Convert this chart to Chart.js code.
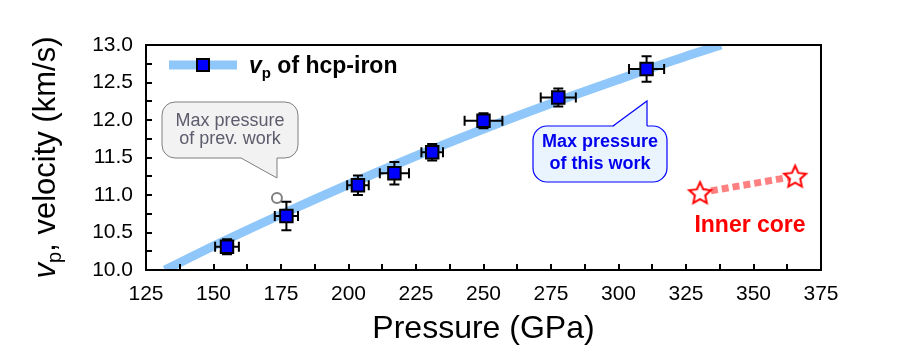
<!DOCTYPE html>
<html>
<head>
<meta charset="utf-8">
<script src="https://cdn.jsdelivr.net/npm/chart.js@4.4.1/dist/chart.umd.min.js"></script>
<style>
  html, body { margin: 0; padding: 0; background: #fff; }
  #wrap { width: 900px; height: 360px; }
</style>
</head>
<body>
<div id="wrap"><canvas id="chart" width="900" height="360"></canvas></div>
<script>
"use strict";

// measured points, vp of hcp-iron
const pressure = [155, 177, 203.5, 217, 231, 250, 277.7, 310.4];
const velocity = [10.31, 10.72, 11.13, 11.29, 11.57, 11.99, 12.30, 12.68];
const pressureErr = [4.4, 4.3, 4, 5.4, 4, 7, 6.5, 6.5];
const velocityErr = [0.1, 0.19, 0.13, 0.15, 0.11, 0.1, 0.12, 0.17];

// fitted curve (thick blue band)
const fitP = [132, 150, 175, 200, 225, 250, 275, 300, 325, 338];
const fitV = [10.0, 10.32, 10.74, 11.14, 11.52, 11.88, 12.22, 12.54, 12.85, 13.0];

// previous work max pressure (open circle)
const prevP = [173.5];
const prevV = [10.96];

// inner core range
const coreP = [330.2, 365.4];
const coreV = [11.03, 11.25];

// axis labels
const xLabels = [125, 150, 175, 200, 225, 250, 275, 300, 325, 350, 375];
const yLabels = [10.0, 10.5, 11.0, 11.5, 12.0, 12.5, 13.0];

const FONT = "Arial, 'Liberation Sans', sans-serif";
const BAND = "#8FC7FA";

function starImage(r) {
  const c = document.createElement("canvas");
  const s = Math.ceil(r * 2 + 6);
  c.width = s;
  c.height = s;
  const g = c.getContext("2d");
  g.translate(s / 2, s / 2 + 1);
  g.beginPath();
  for (let i = 0; i < 10; i++) {
    const rr = i % 2 ? r * 0.47 : r;
    const a = -Math.PI / 2 + (i * Math.PI) / 5;
    g.lineTo(rr * Math.cos(a), rr * Math.sin(a));
  }
  g.closePath();
  g.fillStyle = "#fff";
  g.fill();
  g.strokeStyle = "#ff0000";
  g.lineWidth = 2;
  g.lineJoin = "miter";
  g.stroke();
  return c;
}

function pairs(xs, ys) {
  return xs.map((x, i) => ({ x, y: ys[i] }));
}

// draws pieces of text [{t, font, dy}] one after another from x
function richText(ctx, parts, x, y) {
  let cx = x;
  parts.forEach((p) => {
    ctx.font = p.font;
    ctx.fillText(p.t, cx, y + (p.dy || 0));
    cx += ctx.measureText(p.t).width;
  });
}
function richWidth(ctx, parts) {
  let w = 0;
  parts.forEach((p) => {
    ctx.font = p.font;
    w += ctx.measureText(p.t).width;
  });
  return w;
}

function roundBox(ctx, x, y, w, h, r) {
  ctx.moveTo(x + r, y);
  ctx.lineTo(x + w - r, y);
  ctx.arcTo(x + w, y, x + w, y + r, r);
  ctx.lineTo(x + w, y + h - r);
  ctx.arcTo(x + w, y + h, x + w - r, y + h, r);
  ctx.lineTo(x + r, y + h);
  ctx.arcTo(x, y + h, x, y + h - r, r);
  ctx.lineTo(x, y + r);
  ctx.arcTo(x, y, x + r, y, r);
}

const decor = {
  id: "decor",
  beforeDatasetDraw(chart, args) {
    if (args.index !== 0) return;
    const ctx = chart.ctx;
    const xs = chart.scales.x;
    const ys = chart.scales.y;
    const cap = 5;
    ctx.save();
    ctx.strokeStyle = "#000";
    ctx.lineWidth = 2;
    pressure.forEach((p, i) => {
      const x = xs.getPixelForValue(p);
      const y = ys.getPixelForValue(velocity[i]);
      const x0 = xs.getPixelForValue(p - pressureErr[i]);
      const x1 = xs.getPixelForValue(p + pressureErr[i]);
      const y0 = ys.getPixelForValue(velocity[i] - velocityErr[i]);
      const y1 = ys.getPixelForValue(velocity[i] + velocityErr[i]);
      ctx.beginPath();
      ctx.moveTo(x0, y); ctx.lineTo(x1, y);
      ctx.moveTo(x0, y - cap); ctx.lineTo(x0, y + cap);
      ctx.moveTo(x1, y - cap); ctx.lineTo(x1, y + cap);
      ctx.moveTo(x, y0); ctx.lineTo(x, y1);
      ctx.moveTo(x - cap, y0); ctx.lineTo(x + cap, y0);
      ctx.moveTo(x - cap, y1); ctx.lineTo(x + cap, y1);
      ctx.stroke();
    });
    ctx.restore();
  },
  afterDatasetsDraw(chart) {
    const ctx = chart.ctx;
    ctx.save();
    // callout: previous work
    ctx.beginPath();
    roundBox(ctx, 162, 102, 136, 56, 13);
    ctx.fillStyle = "#F2F2F2";
    ctx.fill();
    ctx.strokeStyle = "#7F7F7F";
    ctx.lineWidth = 1;
    ctx.stroke();
    ctx.beginPath();
    ctx.moveTo(241, 158); ctx.lineTo(277, 178); ctx.lineTo(277, 157);
    ctx.lineTo(241, 157); ctx.closePath();
    ctx.fill();
    ctx.beginPath();
    ctx.moveTo(241, 158); ctx.lineTo(277, 178); ctx.lineTo(277, 158);
    ctx.stroke();
    ctx.fillStyle = "#5C5C6C";
    ctx.font = "18px " + FONT;
    ctx.textAlign = "center";
    ctx.textBaseline = "alphabetic";
    ctx.fillText("Max pressure", 230, 126);
    ctx.fillText("of prev. work", 230, 144);

    // callout: this work
    ctx.beginPath();
    roundBox(ctx, 533, 126, 134, 56, 14);
    ctx.fillStyle = "#EAF4FE";
    ctx.fill();
    ctx.strokeStyle = "#0000FF";
    ctx.lineWidth = 1.2;
    ctx.stroke();
    ctx.beginPath();
    ctx.moveTo(613, 127); ctx.lineTo(647, 101); ctx.lineTo(647, 127);
    ctx.closePath();
    ctx.fill();
    ctx.beginPath();
    ctx.moveTo(613, 126); ctx.lineTo(647, 101); ctx.lineTo(647, 126);
    ctx.stroke();
    ctx.fillStyle = "#0000EE";
    ctx.font = "bold 18px " + FONT;
    ctx.fillText("Max pressure", 600, 147);
    ctx.fillText("of this work", 600, 169);

    // inner core label
    ctx.fillStyle = "#FF0000";
    ctx.font = "bold 23px " + FONT;
    ctx.fillText("Inner core", 750, 232);
    ctx.restore();
  },
  afterDraw(chart) {
    const ctx = chart.ctx;
    const a = chart.chartArea;
    const xs = chart.scales.x;
    const ys = chart.scales.y;
    ctx.save();
    // inner ticks
    ctx.strokeStyle = "#000";
    ctx.lineWidth = 2;
    ctx.beginPath();
    xs.ticks.forEach((t) => {
      if (t.value <= xs.min || t.value >= xs.max) return;
      const px = Math.round(xs.getPixelForValue(t.value));
      ctx.moveTo(px, a.bottom); ctx.lineTo(px, a.bottom - 6);
    });
    ys.ticks.forEach((t) => {
      if (t.value <= ys.min || t.value >= ys.max) return;
      const py = Math.round(ys.getPixelForValue(t.value));
      ctx.moveTo(a.left, py); ctx.lineTo(a.left + 6, py);
    });
    ctx.stroke();
    // frame
    ctx.strokeRect(a.left, a.top, a.right - a.left, a.bottom - a.top);

    // legend
    ctx.strokeStyle = BAND;
    ctx.lineWidth = 9;
    ctx.beginPath();
    ctx.moveTo(169, 65); ctx.lineTo(237, 65);
    ctx.stroke();
    ctx.fillStyle = "#0000FF";
    ctx.fillRect(197, 59, 12, 12);
    ctx.strokeStyle = "#000";
    ctx.lineWidth = 2;
    ctx.strokeRect(197, 59, 12, 12);
    ctx.fillStyle = "#000";
    ctx.textAlign = "left";
    ctx.textBaseline = "alphabetic";
    richText(ctx, [
      { t: "v", font: "italic bold 23px " + FONT },
      { t: "p", font: "bold 15px " + FONT, dy: 5 },
      { t: " of hcp-iron", font: "bold 23px " + FONT },
    ], 249, 73);

    // axis titles
    ctx.font = "32px " + FONT;
    ctx.textAlign = "center";
    ctx.fillText("Pressure (GPa)", (a.left + a.right) / 2, 338);

    const yParts = [
      { t: "v", font: "italic 31px " + FONT },
      { t: "p", font: "20px " + FONT, dy: 6 },
      { t: ", velocity (km/s)", font: "31px " + FONT },
    ];
    ctx.textAlign = "left";
    const w = richWidth(ctx, yParts);
    ctx.translate(55, (a.top + a.bottom) / 2);
    ctx.rotate(-Math.PI / 2);
    richText(ctx, yParts, -w / 2, 0);
    ctx.restore();
  },
};

const ctx = document.getElementById("chart").getContext("2d");
new Chart(ctx, {
  type: "scatter",
  data: {
    datasets: [
      {
        label: "vp of hcp-iron",
        data: pairs(pressure, velocity),
        pointStyle: "rect",
        pointRadius: 8.8,
        pointBackgroundColor: "#0000FF",
        pointBorderColor: "#000",
        pointBorderWidth: 2,
        order: 0,
      },
      {
        label: "prev",
        data: pairs(prevP, prevV),
        pointStyle: "circle",
        pointRadius: 5,
        pointBackgroundColor: "#fff",
        pointBorderColor: "#808080",
        pointBorderWidth: 2,
        order: 1,
      },
      {
        label: "inner core",
        data: pairs(coreP, coreV),
        showLine: true,
        borderColor: "#FF8080",
        borderWidth: 7,
        borderDash: [7, 4],
        borderCapStyle: "butt",
        pointStyle: starImage(11.5),
        pointRadius: 11,
        order: 2,
      },
      {
        label: "fit",
        data: pairs(fitP, fitV),
        showLine: true,
        borderColor: BAND,
        borderWidth: 9,
        tension: 0.4,
        cubicInterpolationMode: "monotone",
        pointRadius: 0,
        order: 3,
      },
    ],
  },
  options: {
    responsive: false,
    animation: false,
    events: [],
    layout: { padding: { top: 45, right: 79, left: 0, bottom: 0 } },
    scales: {
      x: {
        type: "linear",
        min: 125,
        max: 375,
        afterFit: (s) => { s.height = 90; },
        grid: { display: false, drawTicks: false },
        border: { display: false },
        ticks: {
          stepSize: 12.5,
          padding: 12,
          autoSkip: false,
          maxRotation: 0,
          color: "#000",
          font: { family: FONT, size: 21 },
          callback: (v) => (xLabels.includes(v) ? String(v) : ""),
        },
      },
      y: {
        type: "linear",
        min: 10,
        max: 13,
        afterFit: (s) => { s.width = 146; },
        grid: { display: false, drawTicks: false },
        border: { display: false },
        ticks: {
          stepSize: 0.25,
          padding: 13,
          autoSkip: false,
          color: "#000",
          font: { family: FONT, size: 21 },
          callback: (v) => (yLabels.some((l) => Math.abs(l - v) < 1e-6) ? v.toFixed(1) : ""),
        },
      },
    },
    plugins: {
      legend: { display: false },
      tooltip: { enabled: false },
    },
  },
  plugins: [decor],
});
</script>
</body>
</html>
